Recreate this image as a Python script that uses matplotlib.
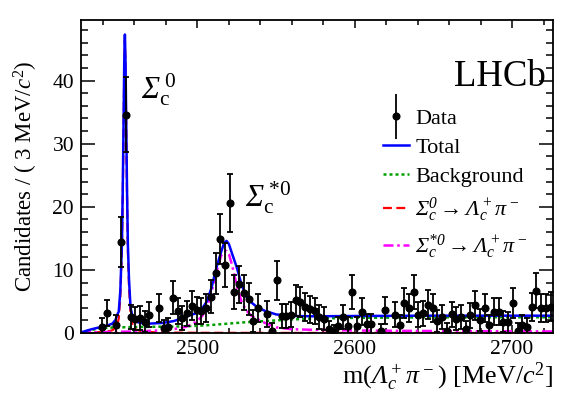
import matplotlib
matplotlib.use("Agg")
import matplotlib.pyplot as plt
import numpy as np
from matplotlib.ticker import MultipleLocator
from matplotlib.lines import Line2D
from matplotlib.legend_handler import HandlerErrorbar

plt.rcParams["font.family"] = ["Liberation Serif", "DejaVu Serif"]
plt.rcParams["mathtext.fontset"] = "custom"
plt.rcParams["mathtext.rm"] = "Liberation Serif:italic"
plt.rcParams["mathtext.it"] = "Liberation Serif:italic"

# data: 3 MeV bins from 2426 to 2726 (nan = empty bin, not drawn)
bin_centres = 2427.5 + 3.0 * np.arange(100)
counts = np.array([
    np.nan, np.nan, np.nan, np.nan, 1.0, 3.2, np.nan, 1.3, 14.4, 34.6,
    2.6, 2.3, 2.4, 1.8, 2.9, np.nan, 3.9, 0.8, 1.0, 5.6,
    3.5, 2.4, 3.1, 4.3, 3.6, 3.5, 4.0, 5.75, 9.5, 14.9,
    10.8, 20.6, 6.5, 7.7, 6.4, 5.4, 1.95, 4.0, np.nan, 3.0,
    0.4, 8.35, 2.7, 2.7, 2.9, 5.2, 4.9, 4.1, 3.75, 3.5,
    2.5, 2.3, 0.6, 0.2, 1.1, 2.5, 1.1, 6.5, 1.1, 3.4,
    1.4, 1.4, np.nan, 0.3, 3.6, np.nan, 2.9, 1.3, 4.7, 4.0,
    6.5, 2.9, 3.1, 4.5, 4.0, 1.9, 2.6, 0.4, 2.95, 2.3,
    2.6, 0.6, 2.8, 4.4, 2.1, 3.9, 1.3, 3.4, 3.4, 1.8,
    1.7, 4.8, 0.4, 1.3, 1.0, 4.1, 6.7, 4.0, 3.9, 4.2,
])
errors = np.sqrt(counts + 1.0)

# fit curves
total_m = [2426, 2432, 2436, 2440, 2444, 2446, 2448, 2449, 2450, 2451, 2452,
           2452.5, 2453, 2453.5, 2453.9, 2454.3, 2454.8, 2455.3, 2455.8, 2456.5,
           2457.5, 2459, 2461, 2464, 2470, 2478, 2485, 2490, 2495, 2500, 2503,
           2506, 2509, 2512, 2515, 2517, 2518.5, 2520, 2522, 2525, 2528, 2531,
           2534, 2538, 2543, 2550, 2560, 2575, 2600, 2650, 2726]
total_v = [0.1, 0.55, 0.8, 1.0, 1.3, 1.5, 2.1, 2.9, 3.4, 6.7, 14.0,
           22.0, 32.0, 43.0, 47.3, 43.0, 32.0, 22.0, 14.0, 8.6,
           4.0, 2.4, 1.8, 1.6, 1.5, 1.6, 1.9, 2.3, 2.8, 3.2, 3.9,
           5.0, 7.2, 10.3, 12.8, 14.3, 14.6, 14.1, 12.6, 10.4, 7.7, 5.8,
           4.9, 4.1, 3.5, 2.95, 2.7, 2.65, 2.7, 2.75, 2.75]

bkg_m = [2426, 2428, 2432, 2436, 2440, 2444, 2450, 2460, 2475, 2490, 2500,
         2510, 2520, 2530, 2540, 2550, 2560, 2575, 2600, 2650, 2726]
bkg_v = [0.0, 0.2, 0.45, 0.65, 0.78, 0.85, 0.9, 0.95, 1.0, 1.05, 1.15,
         1.3, 1.5, 1.7, 1.85, 2.0, 2.15, 2.3, 2.4, 2.5, 2.5]

sig0_m = [2426, 2432, 2436, 2440, 2444, 2446, 2448, 2449, 2450, 2451, 2452,
          2452.5, 2453, 2453.5, 2453.9, 2454.3, 2454.8, 2455.3, 2455.8, 2456.5,
          2457.5, 2459, 2461, 2464, 2468, 2475, 2482, 2500, 2550, 2726]
sig0_v = [0.05, 0.09, 0.12, 0.18, 0.3, 0.45, 0.85, 1.2, 2.3, 5.8, 13.0,
          21.0, 31.0, 42.0, 46.4, 42.0, 31.0, 21.0, 13.0, 7.5,
          2.8, 1.1, 0.55, 0.3, 0.18, 0.1, 0.07, 0.04, 0.02, 0.01]

sig1_m = [2426, 2440, 2460, 2475, 2482, 2488, 2493, 2497, 2500, 2503, 2506,
          2509, 2512, 2515, 2517, 2518.5, 2520, 2522, 2525, 2528, 2531, 2534,
          2538, 2543, 2550, 2560, 2575, 2600, 2630, 2660, 2690, 2726]
sig1_v = [0.1, 0.15, 0.25, 0.4, 0.5, 0.75, 1.0, 1.5, 1.9, 2.7, 3.9,
          6.5, 9.6, 12.2, 12.9, 13.0, 12.5, 10.8, 7.5, 5.0, 3.6, 2.8,
          2.2, 1.6, 0.9, 0.6, 0.5, 0.4, 0.35, 0.3, 0.28, 0.25]

green = "#00a000"
bkg_style = dict(color=green, ls=(0, (1.2, 1.2)), lw=1.8)
sig0_style = dict(color="red", ls=(0, (4, 2)), lw=1.6)
sig1_style = dict(color="magenta", ls=(0, (4, 1.5, 1, 1.5)), lw=1.8)
total_style = dict(color="blue", lw=1.8)
data_style = dict(fmt="o", color="black", ms=4.8, elinewidth=1.3,
                  capsize=2.0, capthick=1.3)

fig = plt.figure(figsize=(5.81, 3.96), dpi=100)
ax = fig.add_axes([0.1394, 0.159, 0.8124, 0.7905])

ax.plot(bkg_m, bkg_v, **bkg_style)
ax.plot(sig0_m, sig0_v, **sig0_style)
ax.plot(sig1_m, sig1_v, **sig1_style)
ax.plot(total_m, total_v, **total_style)
ax.errorbar(bin_centres, counts, yerr=errors, zorder=5, **data_style)

ax.set_xlim(2426, 2726)
ax.set_ylim(0, 49.6)
ax.xaxis.set_major_locator(MultipleLocator(100))
ax.xaxis.set_minor_locator(MultipleLocator(20))
ax.yaxis.set_major_locator(MultipleLocator(10))
ax.yaxis.set_minor_locator(MultipleLocator(2))
ax.tick_params(which="both", direction="in", top=True, right=True,
               labelsize=15.5, width=1.1)
ax.tick_params(axis="y", which="major", length=10, pad=5)
ax.tick_params(axis="y", which="minor", length=5)
ax.tick_params(axis="x", which="major", length=6, pad=5)
ax.tick_params(axis="x", which="minor", length=3.5)
for spine in ax.spines.values():
    spine.set_linewidth(1.3)

ax.set_xlabel(r"m($\Lambda_c^+\pi^-$) [MeV/$c^{\mathdefault{2}}$]",
              fontsize=18.8, loc="right", labelpad=1)
ax.set_ylabel(r"Candidates / ( 3 MeV/$c^{\mathdefault{2}}$)", fontsize=16.5,
              labelpad=9)

ax.text(0.985, 0.82, "LHCb", transform=ax.transAxes, ha="right", va="center",
        fontsize=26.5)
ax.text(2464, 38.5, r"$\Sigma_{\mathdefault{c}}^{\ \mathdefault{0}}$", fontsize=22,
        ha="left", va="center")
ax.text(2530, 21.5, r"$\Sigma_{\mathdefault{c}}^{\ \mathdefault{*0}}$", fontsize=22,
        ha="left", va="center")

data_handle = ax.errorbar([], [], yerr=[], **data_style)
handles = [
    data_handle,
    Line2D([], [], **total_style),
    Line2D([], [], **bkg_style),
    Line2D([], [], **sig0_style),
    Line2D([], [], **sig1_style),
]
labels = ["Data", "Total", "Background",
          r"$\Sigma_c^0\rightarrow\Lambda_c^+\pi^-$",
          r"$\Sigma_c^{*0}\rightarrow\Lambda_c^+\pi^-$"]
ax.legend(handles, labels, loc="upper left", bbox_to_anchor=(0.621, 0.745),
          frameon=False, fontsize=16, handlelength=1.15, handletextpad=0.3,
          labelspacing=0.38, borderaxespad=0,
          handler_map={type(data_handle): HandlerErrorbar(xerr_size=0, yerr_size=1.0)})

fig.savefig("out.png", dpi=100)
